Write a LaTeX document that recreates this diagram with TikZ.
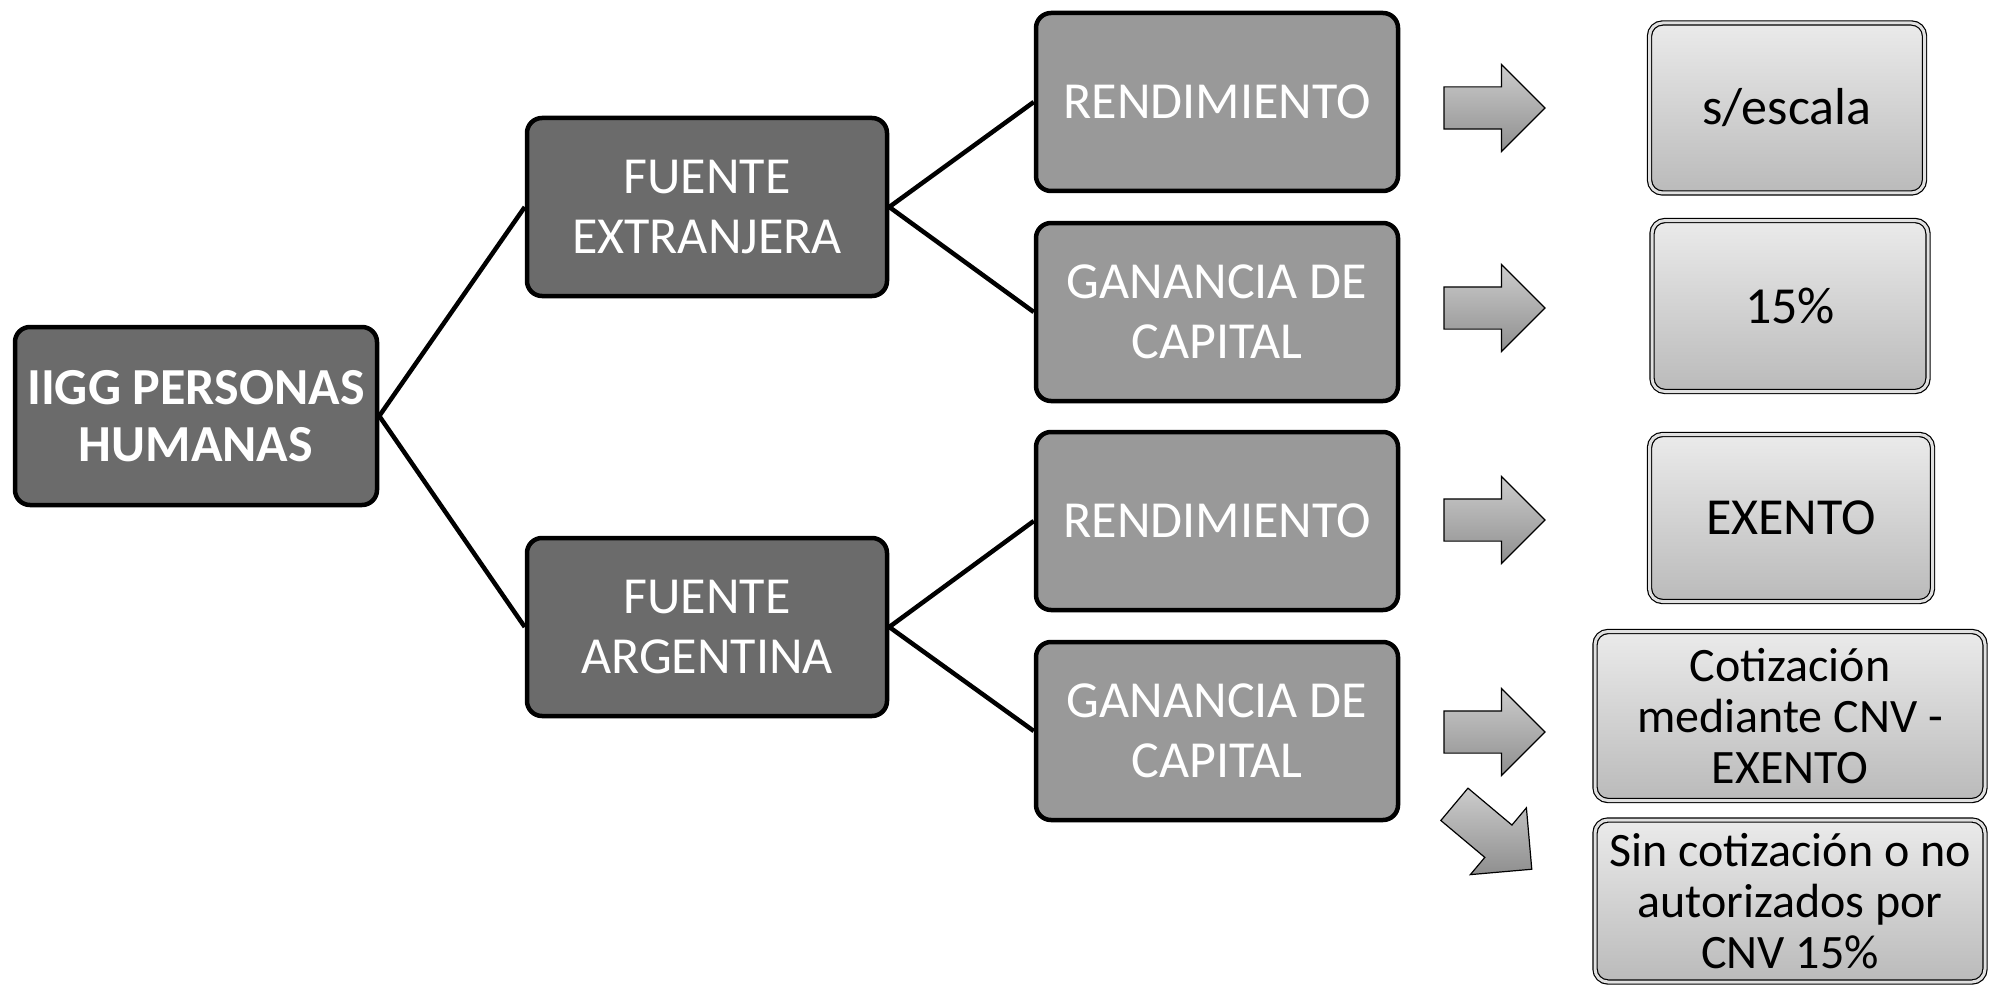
\documentclass[tikz,border=0pt]{standalone}
\usepackage{fontspec}
\setmainfont{Carlito}
\usepackage{tikz}
\usetikzlibrary{shapes.arrows,positioning,calc}

\tikzset{
  raiz/.style={rectangle, rounded corners=15pt, draw=black, line width=4.5pt, fill=black!58, text=white, minimum width=362pt, minimum height=178pt, inner sep=0pt, align=center, font=\fontsize{52}{60}\selectfont},
  tipo/.style={raiz, fill=black!40},
  tasa/.style={rectangle, rounded corners=13pt, draw=black, line width=1.2pt, double=black!12, double distance=3pt, top color=black!8, bottom color=black!27, inner sep=0pt, align=center, font=\fontsize{52}{60}\selectfont},
  flecha/.style={single arrow, draw=black, line width=1.2pt, top color=black!20, bottom color=black!44, minimum height=101pt, inner sep=0pt, inner ysep=20.5pt, single arrow head extend=22.5pt, single arrow head indent=0pt},
  rama/.style={line width=4.5pt}
}

\begin{document}
\begin{tikzpicture}[x=1pt, y=-1pt]
\useasboundingbox (0,0) rectangle (1999,987);

\node[raiz, font=\bfseries\fontsize{52}{57}\selectfont] (iigg) at (196,416) {IIGG PERSONAS\\HUMANAS};

\node[raiz, minimum width=360pt] (ext) at (707,207) {FUENTE\\EXTRANJERA};
\node[raiz, minimum width=360pt] (arg) at (707,627) {FUENTE\\ARGENTINA};

\node[tipo] (rendext) at (1217,102) {RENDIMIENTO};
\node[tipo] (ganext) at (1217,312) {GANANCIA DE\\CAPITAL};
\node[tipo] (rendarg) at (1217,521) {RENDIMIENTO};
\node[tipo] (ganarg) at (1217,731) {GANANCIA DE\\CAPITAL};

\draw[rama] (iigg.east) -- (ext.west);
\draw[rama] (iigg.east) -- (arg.west);
\draw[rama] (ext.east) -- (rendext.west);
\draw[rama] (ext.east) -- (ganext.west);
\draw[rama] (arg.east) -- (rendarg.west);
\draw[rama] (arg.east) -- (ganarg.west);

% flechas
\node[flecha] (f1) at (1484,108) {};
\node[flecha] (f2) at (1484,308) {};
\node[flecha] (f3) at (1484,520) {};
\node[flecha] (f4) at (1484,732) {};
\node[flecha, rotate=-40] (f5) at (1485,830) {};

% resultados
\node[tasa, minimum width=275pt, minimum height=170pt] (escala) at (1787,108) {s/escala};
\node[tasa, minimum width=276pt, minimum height=171pt] (quince) at (1790,306) {15\%};
\node[tasa, minimum width=283pt, minimum height=167pt] (exento) at (1791,518) {EXENTO};
\node[tasa, minimum width=390pt, minimum height=169pt, font=\fontsize{48}{51}\selectfont] (cotiz) at (1790,716) {Cotización\\mediante CNV -\\EXENTO};
\node[tasa, minimum width=390pt, minimum height=162pt, font=\fontsize{48}{51}\selectfont] (sincotiz) at (1790,901) {Sin cotización o no\\autorizados por\\CNV 15\%};

\end{tikzpicture}
\end{document}
